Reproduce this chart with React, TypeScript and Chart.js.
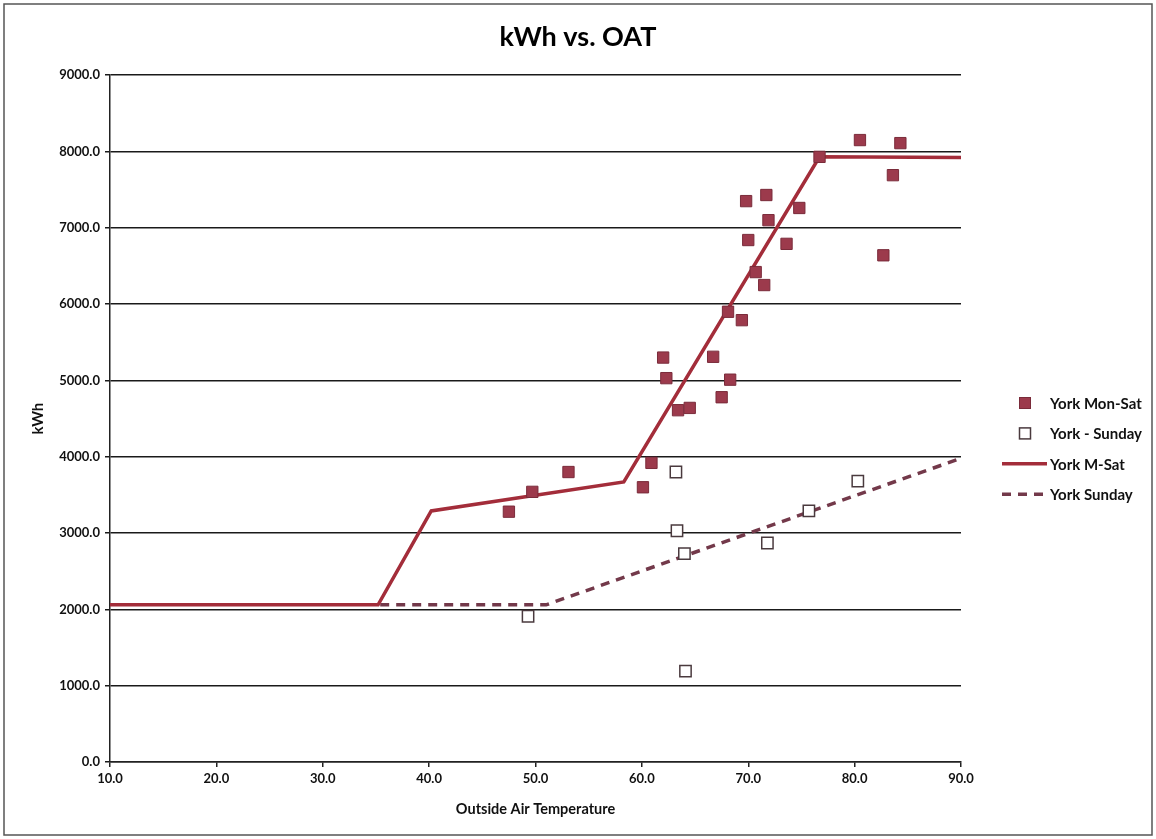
import { useEffect, useRef } from 'react';
import Chart from 'chart.js/auto';

// Daily observations: outside air temperature (°F) and electricity use (kWh)
const monSatTemp = [47.5, 49.7, 53.1, 60.1, 60.9, 62.0, 62.3, 63.4, 64.5, 66.7, 67.5, 68.3, 68.1, 69.4, 69.8, 70.0, 70.7, 71.5, 71.7, 71.9, 73.6, 74.8, 76.7, 80.5, 82.7, 83.6, 84.3];
const monSatKwh = [3280, 3540, 3800, 3600, 3920, 5300, 5030, 4610, 4640, 5310, 4780, 5010, 5900, 5790, 7350, 6840, 6420, 6250, 7430, 7100, 6790, 7260, 7930, 8150, 6640, 7690, 8110];

const sundayTemp = [49.3, 63.2, 63.3, 64.0, 64.1, 71.8, 75.7, 80.3];
const sundayKwh = [1910, 3800, 3030, 2730, 1190, 2870, 3290, 3680];

// Piecewise regression models
const mSatModelTemp = [10, 35.2, 40.2, 58.3, 76.7, 90];
const mSatModelKwh = [2060, 2060, 3290, 3670, 7930, 7920];

const sundayModelTemp = [35.4, 51, 90];
const sundayModelKwh = [2060, 2060, 3980];

const seriesLabels = ['York Mon-Sat', 'York - Sunday', 'York M-Sat', 'York Sunday'];

const FONT = 'Lato, "Open Sans", "DejaVu Sans", sans-serif';

const toPoints = (xs: number[], ys: number[]) => xs.map((x, i) => ({ x, y: ys[i] }));

// White page, thin frame and a hand-laid legend to the right of the plot
const framePlugin = {
  id: 'frameAndLegend',
  beforeDraw(chart: any) {
    const { ctx, width, height } = chart;
    ctx.save();
    ctx.fillStyle = '#ffffff';
    ctx.fillRect(0, 0, width, height);
    ctx.restore();
  },
  afterDraw(chart: any) {
    const { ctx, chartArea } = chart;
    ctx.save();
    ctx.strokeStyle = '#555555';
    ctx.lineWidth = 1.5;
    ctx.strokeRect(4, 4, 1148, 831);

    const rowTop = 403;
    const rowStep = 30.4;
    const lineStart = chartArea.right + 41;
    const lineEnd = chartArea.right + 86;
    const boxCenter = chartArea.right + 64;
    const textX = chartArea.right + 89;
    ctx.font = `bold 15px ${FONT}`;
    ctx.textBaseline = 'middle';
    ctx.textAlign = 'left';
    chart.data.datasets.forEach((ds: any, i: number) => {
      const y = rowTop + i * rowStep;
      if (ds.showLine) {
        ctx.beginPath();
        ctx.setLineDash(ds.borderDash || []);
        ctx.strokeStyle = ds.borderColor;
        ctx.lineWidth = ds.borderWidth;
        ctx.moveTo(lineStart, y);
        ctx.lineTo(lineEnd, y);
        ctx.stroke();
        ctx.setLineDash([]);
      } else {
        const s = 11;
        ctx.fillStyle = ds.backgroundColor;
        ctx.fillRect(boxCenter - s / 2, y - s / 2, s, s);
        ctx.strokeStyle = ds.borderColor;
        ctx.lineWidth = ds.borderWidth;
        ctx.strokeRect(boxCenter - s / 2, y - s / 2, s, s);
      }
      ctx.fillStyle = '#111111';
      ctx.fillText(ds.label, textX, y + 1);
    });
    ctx.restore();
  },
};

export default function App() {
  const canvasRef = useRef<HTMLCanvasElement>(null);

  useEffect(() => {
    const canvas = canvasRef.current;
    if (!canvas) return;
    const chart = new Chart(canvas, {
      type: 'scatter',
      data: {
        datasets: [
          {
            label: seriesLabels[0],
            data: toPoints(monSatTemp, monSatKwh),
            pointStyle: 'rect',
            pointRadius: 8,
            backgroundColor: '#9c3a4c',
            borderColor: '#7a2b3a',
            borderWidth: 1,
            showLine: false,
          },
          {
            label: seriesLabels[1],
            data: toPoints(sundayTemp, sundayKwh),
            pointStyle: 'rect',
            pointRadius: 8,
            backgroundColor: '#ffffff',
            borderColor: '#4a3a3e',
            borderWidth: 1.5,
            showLine: false,
          },
          {
            label: seriesLabels[2],
            data: toPoints(mSatModelTemp, mSatModelKwh),
            showLine: true,
            pointRadius: 0,
            borderColor: '#a32d3a',
            backgroundColor: '#a32d3a',
            borderWidth: 3.5,
            tension: 0,
          },
          {
            label: seriesLabels[3],
            data: toPoints(sundayModelTemp, sundayModelKwh),
            showLine: true,
            pointRadius: 0,
            borderColor: '#73394a',
            backgroundColor: '#73394a',
            borderWidth: 3.5,
            borderDash: [9, 7],
            tension: 0,
          },
        ],
      },
      options: {
        animation: false,
        responsive: false,
        events: [],
        layout: { padding: 0 },
        plugins: {
          legend: { display: false },
          tooltip: { enabled: false },
          title: {
            display: true,
            text: 'kWh vs. OAT',
            color: '#000000',
            font: { family: FONT, size: 27, weight: 'bold', lineHeight: 1.2 },
            padding: { top: 21.5, bottom: 21.3 },
          },
        },
        scales: {
          x: {
            type: 'linear',
            min: 10,
            max: 90,
            ticks: {
              stepSize: 10,
              padding: 4,
              color: '#111111',
              font: { family: FONT, size: 13, weight: 'bold' },
              callback: (v: any) => Number(v).toFixed(1),
            },
            grid: {
              drawOnChartArea: false,
              drawTicks: true,
              tickLength: 5,
              color: '#222222',
              lineWidth: 1.5,
            },
            border: { display: true, color: '#222222', width: 1.5 },
            title: {
              display: true,
              text: 'Outside Air Temperature',
              color: '#111111',
              font: { family: FONT, size: 14.5, weight: 'bold', lineHeight: 1.2 },
              padding: { top: 0, bottom: 21.3 },
            },
            afterFit: (s: any) => {
              s.height = 77;
            },
          },
          y: {
            type: 'linear',
            min: 0,
            max: 9000,
            ticks: {
              stepSize: 1000,
              padding: 5,
              color: '#111111',
              font: { family: FONT, size: 13, weight: 'bold' },
              callback: (v: any) => Number(v).toFixed(1),
            },
            grid: {
              drawTicks: true,
              tickLength: 5,
              color: '#1a1a1a',
              lineWidth: 1.5,
            },
            border: { display: true, color: '#222222', width: 1.5 },
            title: {
              display: true,
              text: 'kWh',
              color: '#111111',
              font: { family: FONT, size: 15, weight: 'bold', lineHeight: 1.2 },
              padding: { top: 29, bottom: 0 },
            },
            afterFit: (s: any) => {
              s.width = 110;
            },
          },
          legendSpace: {
            type: 'linear',
            position: 'right',
            display: true,
            ticks: { display: false },
            grid: { display: false },
            border: { display: false },
            afterFit: (s: any) => {
              s.width = 195;
            },
          },
        },
      },
      plugins: [framePlugin],
    });
    return () => chart.destroy();
  }, []);

  return (
    <div style={{ position: 'absolute', left: 0, top: 0, width: 1156, height: 839, background: '#ffffff' }}>
      <canvas ref={canvasRef} width={1156} height={839} />
    </div>
  );
}
